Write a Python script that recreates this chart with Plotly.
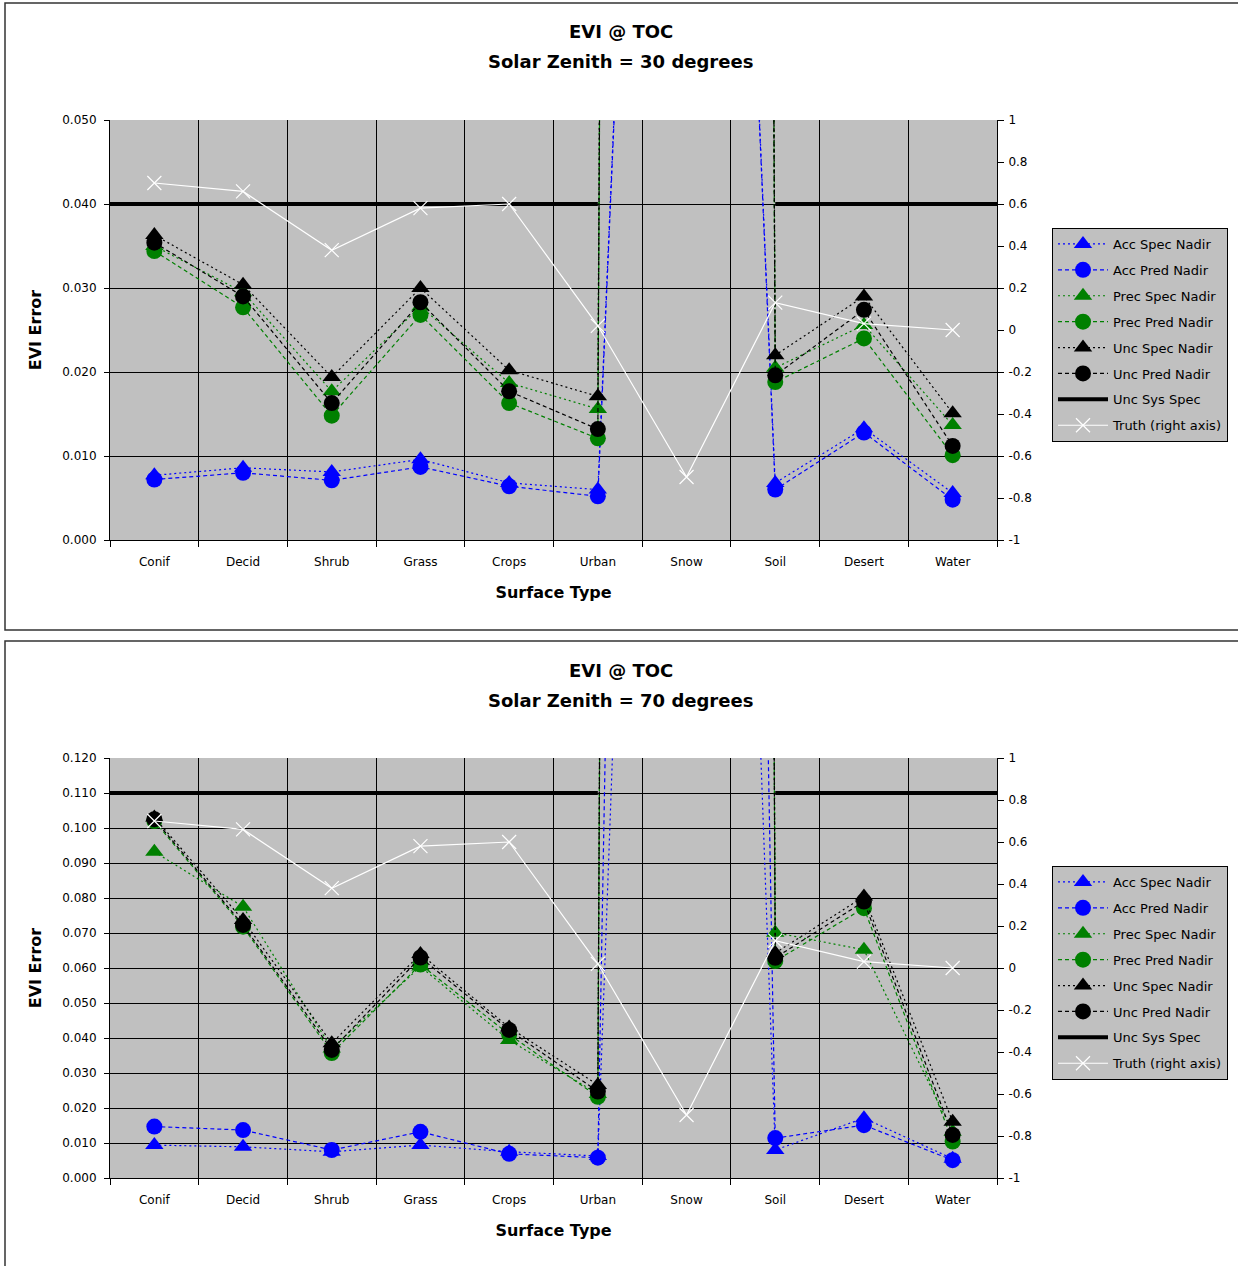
import plotly.graph_objects as go

W, H = 1238, 1266

categories = ["Conif", "Decid", "Shrub", "Grass", "Crops", "Urban", "Snow", "Soil", "Desert", "Water"]

# Solar zenith = 30 degrees
acc_spec_30 = [0.0077, 0.0086, 0.0081, 0.0096, 0.0068, 0.0060, 0.25, 0.0068, 0.0133, 0.0056]
acc_pred_30 = [0.0072, 0.0080, 0.0071, 0.0087, 0.0064, 0.0052, 0.25, 0.0060, 0.0128, 0.0048]
prec_spec_30 = [0.0350, 0.0295, 0.0177, 0.0278, 0.0187, 0.0156, 2.0, 0.0205, 0.0256, 0.0137]
prec_pred_30 = [0.0344, 0.0277, 0.0148, 0.0268, 0.0163, 0.0121, 2.0, 0.0188, 0.0240, 0.0101]
unc_spec_30 = [0.0363, 0.0304, 0.0194, 0.0300, 0.0202, 0.0171, 2.0, 0.0220, 0.0290, 0.0151]
unc_pred_30 = [0.0354, 0.0290, 0.0163, 0.0283, 0.0177, 0.0132, 2.0, 0.0196, 0.0274, 0.0112]
sys_spec_30 = [0.040, 0.040, 0.040, 0.040, 0.040, 0.040, None, 0.040, 0.040, 0.040]

# Solar zenith = 70 degrees
acc_spec_70 = [0.0094, 0.0089, 0.0075, 0.0094, 0.0075, 0.0063, 0.7, 0.0080, 0.0171, 0.0055]
acc_pred_70 = [0.0147, 0.0137, 0.0080, 0.0132, 0.0069, 0.0058, 1.4, 0.0114, 0.0151, 0.0051]
prec_spec_70 = [0.0932, 0.0775, 0.0370, 0.0604, 0.0394, 0.0240, 5.0, 0.0701, 0.0652, 0.0132]
prec_pred_70 = [0.1020, 0.0718, 0.0357, 0.0610, 0.0410, 0.0232, 5.0, 0.0620, 0.0771, 0.0104]
unc_spec_70 = [0.1030, 0.0737, 0.0385, 0.0640, 0.0430, 0.0266, 5.0, 0.0643, 0.0804, 0.0161]
unc_pred_70 = [0.1025, 0.0723, 0.0366, 0.0630, 0.0423, 0.0247, 5.0, 0.0629, 0.0790, 0.0123]
sys_spec_70 = [0.110, 0.110, 0.110, 0.110, 0.110, 0.110, None, 0.110, 0.110, 0.110]

# Truth (right axis), same for both panels
truth = [0.70, 0.66, 0.38, 0.58, 0.60, 0.02, -0.70, 0.13, 0.03, 0.0]

right_ticks = [1, 0.8, 0.6, 0.4, 0.2, 0, -0.2, -0.4, -0.6, -0.8, -1]
right_ticktext = ["1", "0.8", "0.6", "0.4", "0.2", "0", "-0.2", "-0.4", "-0.6", "-0.8", "-1"]

FONT = "DejaVu Sans"
idx = list(range(len(categories)))
bounds = [i - 0.5 for i in range(len(categories) + 1)]

fig = go.Figure()


def px_x(p):
    return p / W


def px_y(p):
    return 1 - p / H


panels = [
    dict(xa="x", ya="y", ya2="y2", legend="legend",
         data=[acc_spec_30, acc_pred_30, prec_spec_30, prec_pred_30, unc_spec_30, unc_pred_30],
         sys=sys_spec_30),
    dict(xa="x2", ya="y3", ya2="y4", legend="legend2",
         data=[acc_spec_70, acc_pred_70, prec_spec_70, prec_pred_70, unc_spec_70, unc_pred_70],
         sys=sys_spec_70),
]

names = ["Acc Spec Nadir", "Acc Pred Nadir", "Prec Spec Nadir", "Prec Pred Nadir",
         "Unc Spec Nadir", "Unc Pred Nadir"]
colors = ["#0000FF", "#0000FF", "#008000", "#008000", "#000000", "#000000"]
symbols = ["triangle-up", "circle", "triangle-up", "circle", "triangle-up", "circle"]
sizes = [16, 16, 16, 16, 16, 16]
dashes = ["2px,3px", "4px,3px", "2px,3px", "4px,3px", "2px,3px", "4px,3px"]

for p in panels:
    for k, (nm, vals) in enumerate(zip(names, p["data"])):
        fig.add_trace(go.Scatter(
            x=idx, y=vals, name=nm, mode="lines+markers",
            xaxis=p["xa"], yaxis=p["ya"], legend=p["legend"], legendgroup=p["legend"] + nm,
            line=dict(color=colors[k], width=1.2, dash=dashes[k]),
            marker=dict(symbol=symbols[k], size=sizes[k], color=colors[k]),
        ))
    sysv = p["sys"]
    fig.add_trace(go.Scatter(
        x=[bounds[0]] + idx + [bounds[-1]], y=[sysv[0]] + sysv + [sysv[-1]],
        name="Unc Sys Spec", mode="lines",
        xaxis=p["xa"], yaxis=p["ya"], legend=p["legend"], legendgroup=p["legend"] + "sys",
        line=dict(color="black", width=4), connectgaps=False,
    ))
    fig.add_trace(go.Scatter(
        x=idx, y=truth, name="Truth (right axis)", mode="lines+markers",
        xaxis=p["xa"], yaxis=p["ya2"], legend=p["legend"], legendgroup=p["legend"] + "truth",
        line=dict(color="white", width=1.2),
        marker=dict(symbol="x-thin", size=14, color="white", line=dict(color="white", width=1.2)),
    ))

xdom = [px_x(110), px_x(997)]
top_dom = [px_y(540), px_y(120)]
bot_dom = [px_y(1178), px_y(758)]

tickfont = dict(family=FONT, size=12, color="black")
titlefont = dict(family=FONT, size=16, color="black", weight="bold")


def xaxis_cfg(anchor, dom):
    return dict(
        domain=xdom, anchor=anchor, range=[bounds[0], bounds[-1]], automargin=False,
        tickmode="array", tickvals=idx, ticktext=categories, ticks="", showgrid=False,
        minor=dict(tickmode="array", tickvals=bounds, showgrid=True, gridcolor="black", gridwidth=1,
                   ticks="outside", ticklen=6, tickcolor="black"),
        showline=True, linecolor="black", linewidth=1, zeroline=False,
        tickfont=tickfont, ticklabelstandoff=11,
        title=dict(text="Surface Type", font=titlefont, standoff=18),
    )


def yaxis_cfg(anchor, dom, rng, dtick):
    return dict(
        domain=dom, anchor=anchor, range=rng, tickmode="linear", tick0=0, dtick=dtick,
        automargin=False,
        tickformat=".3f", showgrid=True, gridcolor="black", gridwidth=1,
        ticks="outside", ticklen=5, tickcolor="black", showline=True, linecolor="black",
        zeroline=False, tickfont=tickfont, ticklabelstandoff=5,
        title=dict(text="EVI Error", font=titlefont, standoff=16),
    )


def yaxis_right_cfg(anchor, overlay, dom):
    return dict(
        domain=dom, anchor=anchor, overlaying=overlay, side="right", range=[-1, 1],
        automargin=False,
        tickmode="array", tickvals=right_ticks, ticktext=right_ticktext, showgrid=False,
        ticks="outside", ticklen=6, tickcolor="black", showline=True, linecolor="black",
        zeroline=False, tickfont=tickfont, ticklabelstandoff=2,
    )


legend_cfg = dict(
    bgcolor="#C0C0C0", bordercolor="black", borderwidth=1,
    font=dict(family=FONT, size=13, color="black"),
    traceorder="grouped", tracegroupgap=6, itemwidth=50,
    xanchor="left", yanchor="top", itemclick=False,
)

fig.update_layout(
    width=W, height=H, margin=dict(l=0, r=0, t=0, b=0, pad=0, autoexpand=False),
    paper_bgcolor="white", plot_bgcolor="#C0C0C0",
    showlegend=True,
    xaxis=xaxis_cfg("y", top_dom),
    yaxis=yaxis_cfg("x", top_dom, [0, 0.05], 0.01),
    yaxis2=yaxis_right_cfg("x", "y", top_dom),
    xaxis2=xaxis_cfg("y3", bot_dom),
    yaxis3=yaxis_cfg("x2", bot_dom, [0, 0.12], 0.01),
    yaxis4=yaxis_right_cfg("x2", "y3", bot_dom),
    legend=dict(legend_cfg, x=px_x(1052), y=px_y(228)),
    legend2=dict(legend_cfg, x=px_x(1052), y=px_y(866)),
)

# panel frames
fig.add_shape(type="rect", xref="paper", yref="paper", x0=px_x(5), x1=px_x(1245),
              y0=px_y(630), y1=px_y(3), line=dict(color="#333333", width=1.5), layer="below")
fig.add_shape(type="rect", xref="paper", yref="paper", x0=px_x(5), x1=px_x(1245),
              y0=px_y(1275), y1=px_y(641), line=dict(color="#333333", width=1.5), layer="below")

for y1, y2, deg in [(32, 62, 30), (670, 700, 70)]:
    fig.add_annotation(text="EVI @ TOC", xref="paper", yref="paper", x=px_x(621), y=px_y(y1),
                       yanchor="middle", showarrow=False,
                       font=dict(family=FONT, size=18, color="black", weight="bold"))
    fig.add_annotation(text=f"Solar Zenith = {deg} degrees", xref="paper", yref="paper",
                       x=px_x(621), y=px_y(y2), yanchor="middle", showarrow=False,
                       font=dict(family=FONT, size=18, color="black", weight="bold"))

fig.write_html("out.html", config={"displayModeBar": False},
               post_script="document.body.style.margin='0px';")
